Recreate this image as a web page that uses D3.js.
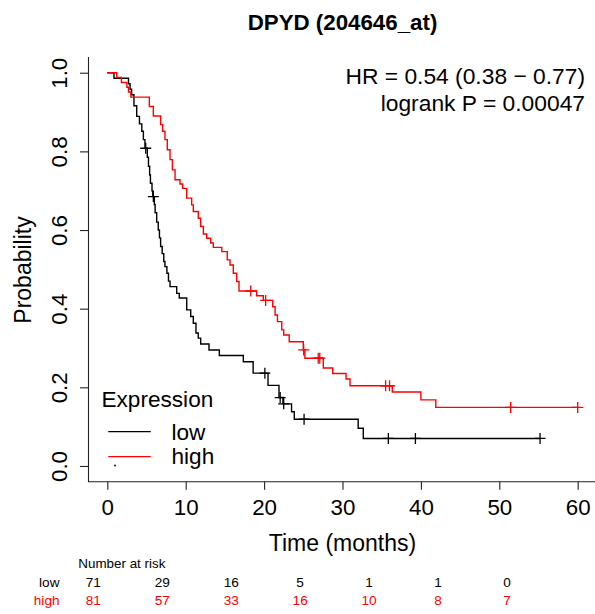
<!DOCTYPE html>
<html>
<head>
<meta charset="utf-8">
<script src="https://cdn.jsdelivr.net/npm/d3@7"></script>
<style>
  html, body { margin: 0; padding: 0; background: #fff; }
  svg { display: block; font-family: "Liberation Sans", Arial, sans-serif; }
</style>
</head>
<body>
<svg id="chart" width="595" height="614"></svg>
<script>
// ---- data ----
const title = "DPYD (204646_at)";
const hrText = "HR = 0.54 (0.38 \u2212 0.77)";
const pText = "logrank P = 0.00047";
const groups = ["low", "high"];
const groupColors = ["#000000", "#FF0000"];

const lowTimes = [0, 0.85, 2.7, 2.9, 3.1, 3.4, 3.75, 4.1, 4.4, 4.6, 4.8,
  5.1, 5.25, 5.4, 5.5, 5.7, 5.8, 6.0, 6.1, 6.3, 6.5, 6.65, 6.8, 7.0, 7.2, 7.35, 7.6, 7.8, 8.0,
  8.85, 9.18, 10.13, 10.64, 10.97, 11.31, 11.6, 11.91, 12.97, 14.29, 17.35, 18.6, 20.5,
  21.9, 22.4, 23.5, 23.85, 32.0, 32.65];
const lowSurv = [1, 0.986, 0.972, 0.958, 0.944, 0.916, 0.889, 0.87, 0.851, 0.83, 0.808,
  0.785, 0.762, 0.74, 0.719, 0.70, 0.685, 0.665, 0.644, 0.62, 0.60, 0.58, 0.558, 0.54, 0.52, 0.507, 0.49, 0.47, 0.456,
  0.439, 0.427, 0.397, 0.38, 0.363, 0.338, 0.325, 0.31, 0.295, 0.281, 0.265, 0.236, 0.205,
  0.174, 0.158, 0.138, 0.119, 0.096, 0.070];
const lowCensor = [4.9, 5.87, 20.1, 22.05, 22.5, 25.1, 35.85, 39.3, 55.2];
const lowEnd = 55.2;

const highTimes = [0, 1.2, 1.8, 2.5, 2.7, 3.0,
  5.36, 5.87, 6.8, 7.05, 7.35, 7.65, 8.0, 8.3, 8.64,
  9.27, 9.6, 10.13, 10.76, 10.97, 11.6, 11.9, 12.25, 12.68, 13.19, 13.52,
  14.6, 15.3, 15.65, 16.07, 16.5, 16.8,
  19.05, 19.9, 21.1, 21.4, 21.7, 22.25, 22.5, 23.2,
  25.0, 25.2, 27.55, 28.75, 30.45, 30.96,
  36.35, 40.0, 41.9];
const highSurv = [1, 0.988, 0.975, 0.963, 0.951, 0.938,
  0.914, 0.89, 0.868, 0.851, 0.83, 0.804, 0.779, 0.753, 0.728,
  0.717, 0.706, 0.681, 0.664, 0.647, 0.63, 0.609, 0.59, 0.579, 0.567, 0.556,
  0.545, 0.524, 0.511, 0.49, 0.469, 0.445,
  0.433, 0.421, 0.405, 0.384, 0.367, 0.346, 0.333, 0.316,
  0.295, 0.274, 0.249, 0.235, 0.221, 0.204,
  0.188, 0.168, 0.149];
const highCensor = [18.3, 20.2, 25.05, 26.9, 27.1, 35.5, 36.0, 51.45, 60];
const highEnd = 60;

const xTicks = [0, 10, 20, 30, 40, 50, 60];
const yTicks = [0, 0.2, 0.4, 0.6, 0.8, 1.0];
const riskTimes = [0, 10, 20, 30, 40, 50, 60];
const riskLow = [71, 29, 16, 5, 1, 1, 0];
const riskHigh = [81, 57, 33, 16, 10, 8, 7];

// ---- layout ----
const svg = d3.select("#chart");
svg.append("rect").attr("width", 595).attr("height", 614).attr("fill", "#fff");

const x = d3.scaleLinear().domain([-2.4, 62.4]).range([88.5, 596.5]);
const y = d3.scaleLinear().domain([-0.04, 1.04]).range([481.7, 57]);

// L-shaped box
svg.append("path")
  .attr("d", `M${x(-2.4)},${y(1.04)}V${y(-0.04)}H${x(62.4)}`)
  .attr("fill", "none").attr("stroke", "#222").attr("stroke-width", 1.1);

// x axis
const xAxis = d3.axisBottom(x).tickValues(xTicks).tickSize(8).tickPadding(9).tickFormat(d3.format("d"));
const gx = svg.append("g").attr("transform", `translate(0,${y(-0.04)})`).call(xAxis);
gx.select(".domain").remove();
gx.selectAll(".tick line").attr("stroke", "#222").attr("stroke-width", 1.1);
gx.selectAll(".tick text").attr("font-size", 22.3).attr("fill", "#000")
  .attr("font-family", "'Liberation Sans', Arial, sans-serif");

// y axis (rotated labels like R)
const yAxis = d3.axisLeft(y).tickValues(yTicks).tickSize(8.5).tickFormat(d3.format(".1f"));
const gy = svg.append("g").attr("transform", `translate(${x(-2.4)},0)`).call(yAxis);
gy.select(".domain").remove();
gy.selectAll(".tick line").attr("stroke", "#222").attr("stroke-width", 1.1);
gy.selectAll(".tick text")
  .attr("font-size", 22.3).attr("fill", "#000")
  .attr("font-family", "'Liberation Sans', Arial, sans-serif")
  .attr("x", null).attr("dy", null)
  .attr("text-anchor", "middle")
  .attr("transform", "translate(-22,0) rotate(-90)");

// axis titles
svg.append("text").attr("x", 342.5).attr("y", 551).attr("text-anchor", "middle")
  .attr("font-size", 23).text("Time (months)");
svg.append("text").attr("transform", "translate(31,270) rotate(-90)").attr("text-anchor", "middle")
  .attr("font-size", 23).text("Probability");

// title
svg.append("text").attr("x", 342.5).attr("y", 30).attr("text-anchor", "middle")
  .attr("font-size", 22.3).attr("font-weight", "bold").text(title);

// HR / p text
svg.append("text").attr("x", 585).attr("y", 84).attr("text-anchor", "end")
  .attr("font-size", 22.8).text(hrText);
svg.append("text").attr("x", 585).attr("y", 111).attr("text-anchor", "end")
  .attr("font-size", 22.8).text(pText);

// ---- curves ----
const line = d3.line().x(d => x(d[0])).y(d => y(d[1])).curve(d3.curveStepAfter);
function survAt(times, surv, t) {
  const i = d3.bisectRight(times, t) - 1;
  return surv[Math.max(0, i)];
}
const series = [
  {times: lowTimes, surv: lowSurv, censor: lowCensor, end: lowEnd, color: groupColors[0]},
  {times: highTimes, surv: highSurv, censor: highCensor, end: highEnd, color: groupColors[1]}
];
series.forEach(s => {
  const pts = s.times.map((t, i) => [t, s.surv[i]]);
  pts.push([s.end, s.surv[s.surv.length - 1]]);
  svg.append("path").attr("d", line(pts)).attr("fill", "none")
    .attr("stroke", s.color).attr("stroke-width", 1.4);
  const g = svg.append("g");
  s.censor.forEach(ct => {
    const cx = x(ct), cy = y(survAt(s.times, s.surv, ct));
    g.append("path").attr("d", `M${cx - 5.5},${cy}H${cx + 5.5}M${cx},${cy - 5.5}V${cy + 5.5}`)
      .attr("stroke", s.color).attr("stroke-width", 1.3).attr("fill", "none");
  });
});

// ---- legend ----
svg.append("text").attr("x", 101.5).attr("y", 407).attr("font-size", 22.6).text("Expression");
groups.forEach((gname, i) => {
  const ly = 431.7 + i * 25;
  svg.append("line").attr("x1", 108.3).attr("x2", 150.7).attr("y1", ly).attr("y2", ly)
    .attr("stroke", groupColors[i]).attr("stroke-width", 1.3);
  svg.append("text").attr("x", 171.5).attr("y", 440 + i * 24.3).attr("font-size", 22.6).text(gname);
});
svg.append("circle").attr("cx", 115).attr("cy", 465.5).attr("r", 0.9).attr("fill", "#000");

// ---- number at risk ----
const rx = d3.scaleLinear().domain([0, 60]).range([93.3, 507]);
svg.append("text").attr("x", 78.3).attr("y", 568.3).attr("font-size", 13.4).text("Number at risk");
[riskLow, riskHigh].forEach((row, r) => {
  const ry = 586.7 + r * 18.5;
  svg.append("text").attr("x", 59.5).attr("y", ry).attr("text-anchor", "end")
    .attr("font-size", 13.6).attr("fill", groupColors[r]).text(groups[r]);
  row.forEach((v, i) => {
    svg.append("text").attr("x", rx(riskTimes[i])).attr("y", ry).attr("text-anchor", "middle")
      .attr("font-size", 13.6).attr("fill", groupColors[r]).text(v);
  });
});
</script>
</body>
</html>
